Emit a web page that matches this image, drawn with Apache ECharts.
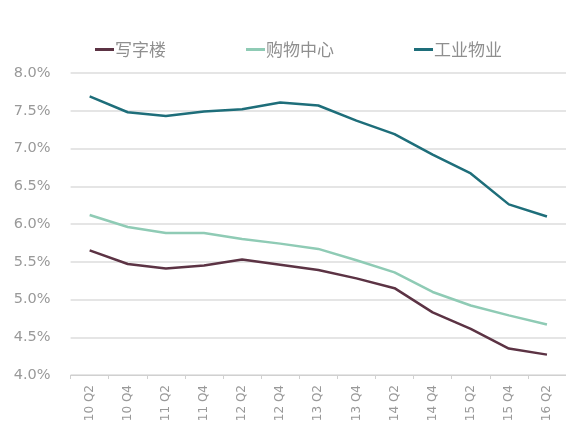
<!DOCTYPE html>
<html>
<head>
<meta charset="utf-8">
<script src="https://cdn.jsdelivr.net/npm/echarts@6/dist/echarts.min.js"></script>
<style>
  html, body { margin: 0; padding: 0; background: #fff; }
  #chart { width: 566px; height: 434px; }
</style>
</head>
<body>
<div id="chart"></div>
<script>
// Quarterly yield data (%)
const quarters = ['10 Q2', '10 Q4', '11 Q2', '11 Q4', '12 Q2', '12 Q4', '13 Q2', '13 Q4', '14 Q2', '14 Q4', '15 Q2', '15 Q4', '16 Q2'];
const office = [5.65, 5.47, 5.41, 5.45, 5.53, 5.46, 5.39, 5.28, 5.15, 4.83, 4.61, 4.35, 4.27];
const retail = [6.12, 5.96, 5.88, 5.88, 5.80, 5.74, 5.67, 5.52, 5.36, 5.10, 4.92, 4.79, 4.67];
const industrial = [7.69, 7.48, 7.43, 7.49, 7.52, 7.61, 7.57, 7.37, 7.19, 6.92, 6.67, 6.26, 6.10];
const seriesNames = ['写字楼', '购物中心', '工业物业'];
const yTicks = { min: 4.0, max: 8.0, step: 0.5 };

const colors = ['#5c3344', '#8fcbb5', '#1e6e7a'];
const cjkFont = '"Noto Sans CJK SC", "Noto Sans", sans-serif';
const numFont = '"DejaVu Sans", sans-serif';

const chart = echarts.init(document.getElementById('chart'));

const legendLefts = [90, 241, 409];
const legends = seriesNames.map((n, i) => ({
  data: [n],
  left: legendLefts[i],
  top: 36,
  icon: 'rect',
  itemWidth: 19,
  itemHeight: 3,
  textStyle: { color: '#8f8f8f', fontSize: 17, fontFamily: cjkFont, padding: [0, 0, 0, -4] }
}));

const values = [office, retail, industrial];

chart.setOption({
  animation: false,
  color: colors,
  legend: legends,
  grid: { left: 70.6, top: 73, width: 505, height: 302 },
  xAxis: {
    type: 'category',
    data: quarters,
    boundaryGap: true,
    axisLine: { lineStyle: { color: '#d0d0d0', width: 1 } },
    axisTick: { show: true, inside: false, length: 4, lineStyle: { color: '#d0d0d0' } },
    axisLabel: { rotate: 90, color: '#999999', fontSize: 12, fontFamily: numFont, margin: 10 }
  },
  yAxis: {
    type: 'value',
    min: yTicks.min,
    max: yTicks.max,
    interval: yTicks.step,
    axisLine: { show: false },
    axisTick: { show: false },
    axisLabel: {
      color: '#999999', fontSize: 14.5, fontFamily: numFont, margin: 20,
      formatter: v => v.toFixed(1) + '%'
    },
    splitLine: { lineStyle: { color: '#dcdcdc', width: 1.5 } }
  },
  series: seriesNames.map((n, i) => ({
    name: n,
    type: 'line',
    data: values[i],
    symbol: 'none',
    lineStyle: { width: 2.5, color: colors[i] }
  }))
});
</script>
</body>
</html>
